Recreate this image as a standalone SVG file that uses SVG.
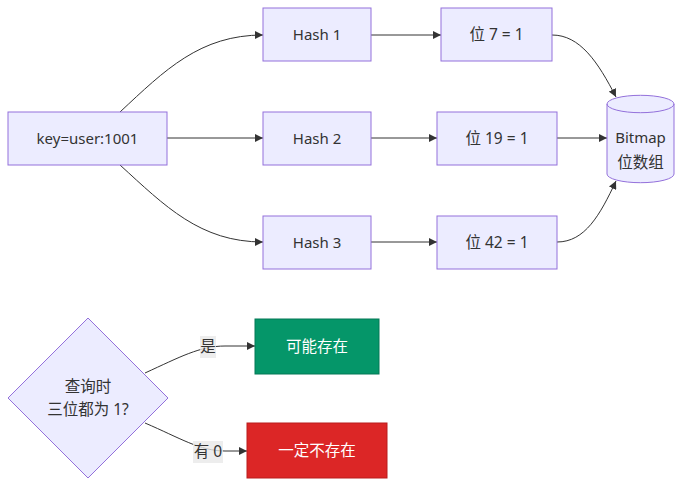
<svg xmlns="http://www.w3.org/2000/svg" width="682" height="487" viewBox="0 0 682 487">
<defs>
<style>
.n{fill:#ECECFF;stroke:#9370DB;stroke-width:1}
.t{font-family:"Noto Sans","Noto Sans CJK SC",sans-serif;font-size:15px;fill:#333;text-anchor:middle;dominant-baseline:central}
.c{font-size:15.5px}
.w{fill:#fff}
.e{fill:none;stroke:#333;stroke-width:1}
.lb{fill:#e8e8e8;opacity:0.8}
</style>
<marker id="ah" viewBox="0 0 10 10" refX="10" refY="5" markerWidth="8" markerHeight="8" orient="auto" markerUnits="userSpaceOnUse">
<path d="M0,0 L10,5 L0,10 z" fill="#333"/>
</marker>
</defs>
<rect width="682" height="487" fill="#fff"/>
<g id="connectors">
<path class="e" marker-end="url(#ah)" d="M120,112 C165,70 200,35 263,35"/>
<path class="e" marker-end="url(#ah)" d="M167,138 L263,138"/>
<path class="e" marker-end="url(#ah)" d="M120,165 C165,206 200,242 263,242"/>
<path class="e" marker-end="url(#ah)" d="M371,35 L441,35"/>
<path class="e" marker-end="url(#ah)" d="M371,138 L437,138"/>
<path class="e" marker-end="url(#ah)" d="M371,242 L437,242"/>
<path class="e" marker-end="url(#ah)" d="M552,35 C580,35 598,62 616,97"/>
<path class="e" marker-end="url(#ah)" d="M557,138 L607,138"/>
<path class="e" marker-end="url(#ah)" d="M557,242 C585,242 600,215 616,181"/>
<path class="e" marker-end="url(#ah)" d="M145,373 C180,357 200,346 225,346 L255,346"/>
<path class="e" marker-end="url(#ah)" d="M145,423 C180,438 200,451 225,451 L247,451"/>
<rect class="lb" x="200" y="336" width="16" height="22"/>
<text class="t c" x="208" y="346">是</text>
<rect class="lb" x="193" y="441" width="30" height="22"/>
<text class="t c" x="208" y="451">有 0</text>
</g>
<g id="key"><rect class="n" x="8" y="112" width="159" height="53"/><text class="t" x="87.5" y="137.5">key=user:1001</text></g>
<g id="h1"><rect class="n" x="263" y="8" width="108" height="53"/><text class="t" x="317" y="33.5">Hash 1</text></g>
<g id="h2"><rect class="n" x="263" y="112" width="108" height="53"/><text class="t" x="317" y="137.5">Hash 2</text></g>
<g id="h3"><rect class="n" x="263" y="216" width="108" height="53"/><text class="t" x="317" y="241.5">Hash 3</text></g>
<g id="b7"><rect class="n" x="441" y="8" width="111" height="53"/><text class="t c" x="496.5" y="33.5">位 7 = 1</text></g>
<g id="b19"><rect class="n" x="437" y="112" width="120" height="53"/><text class="t c" x="497" y="137.5">位 19 = 1</text></g>
<g id="b42"><rect class="n" x="437" y="216" width="120" height="53"/><text class="t c" x="497" y="241.5">位 42 = 1</text></g>
<g id="bitmap">
<path class="n" d="M607,104 A33.5,8.7 0 0 1 674,104 L674,174 A33.5,8.7 0 0 1 607,174 Z"/>
<path class="n" style="fill:none" d="M607,104 A33.5,8.7 0 0 0 674,104"/>
<text class="t" x="640.5" y="136.5">Bitmap</text>
<text class="t c" x="640.5" y="161.5">位数组</text>
</g>
<g id="query"><path class="n" d="M88,318 L168,398 L88,478 L8,398 Z"/><text class="t c" x="88" y="386">查询时</text><text class="t c" x="88" y="408.5">三位都为 1?</text></g>
<g id="maybe"><rect x="255" y="319" width="124" height="55" fill="#059669" stroke="#047857"/><text class="t c w" x="317" y="345.5">可能存在</text></g>
<g id="no"><rect x="247" y="423" width="140" height="55" fill="#DC2626" stroke="#B91C1C"/><text class="t c w" x="317" y="449.5">一定不存在</text></g>
</svg>
